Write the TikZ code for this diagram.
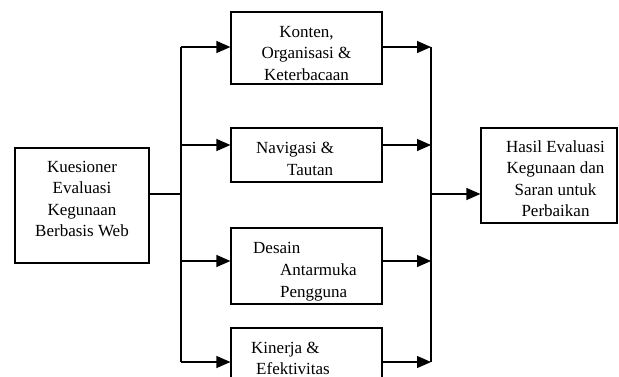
\documentclass[tikz,border=0pt]{standalone}
\usepackage{fontspec}
\setmainfont{Liberation Serif}
\usetikzlibrary{arrows.meta}
\begin{document}
\begin{tikzpicture}[x=1pt,y=-1pt,
  box/.style={draw,line width=1.2pt,rectangle,inner sep=0pt},
  lbl/.style={anchor=base,inner sep=0pt,font=\fontsize{17}{21.5}\selectfont},
  lblw/.style={anchor=base west,inner sep=0pt,font=\fontsize{17}{21.5}\selectfont},
  conn/.style={line width=1.2pt},
  arr/.style={line width=1.2pt,-{Triangle[length=14pt,width=12pt]}}]
\useasboundingbox (0,0) rectangle (619,376);
\clip (0,0) rectangle (619,376);
% boxes
\node[box,minimum width=134pt,minimum height=115pt] (src) at (82,205.5) {};
\node[box,minimum width=151pt,minimum height=72pt] (b1) at (306.5,48) {};
\node[box,minimum width=151pt,minimum height=54pt] (b2) at (306.5,155) {};
\node[box,minimum width=151pt,minimum height=76pt] (b3) at (306.5,266) {};
\node[box,minimum width=151pt,minimum height=72pt] (b4) at (306.5,364) {};
\node[box,minimum width=136pt,minimum height=95pt] (res) at (549,175.5) {};
% texts
\node[lbl] (t1a) at (82,172) {Kuesioner};
\node[lbl] (t1b) at (82,193.5) {Evaluasi};
\node[lbl] (t1c) at (82,215) {Kegunaan};
\node[lbl] (t1d) at (82,236.5) {Berbasis Web};
\node[lbl] (k1) at (306.5,37) {Konten,};
\node[lbl] (k2) at (306.5,58.5) {Organisasi \&};
\node[lbl] (k3) at (306.5,80) {Keterbacaan};
\node[lblw] (n1) at (256,153) {Navigasi \&};
\node[lblw] (n2) at (287,175) {Tautan};
\node[lblw] (d1) at (253,253) {Desain};
\node[lblw] (d2) at (280,275) {Antarmuka};
\node[lblw] (d3) at (280,297) {Pengguna};
\node[lblw] (e1) at (251,353) {Kinerja \&};
\node[lblw] (e2) at (256,374) {Efektivitas};
\node[lbl] (h1) at (555.5,152) {Hasil Evaluasi};
\node[lbl] (h2) at (555.5,173.5) {Kegunaan dan};
\node[lbl] (h3) at (555.5,195) {Saran untuk};
\node[lbl] (h4) at (555.5,216.5) {Perbaikan};
% junction coordinates
\coordinate (jl) at (181,194);
\coordinate (jr) at (431,194);
\coordinate (a1) at (181,47);
\coordinate (a2) at (181,145);
\coordinate (a3) at (181,261);
\coordinate (a4) at (181,362);
\coordinate (r1) at (431,47);
\coordinate (r4) at (431,362);
% connectors
\draw[conn] (src.east |- jl) -- (jl);
\draw[conn] (a1) -- (a4);
\draw[arr] (a1) -- (a1 -| b1.west);
\draw[arr] (a2) -- (a2 -| b2.west);
\draw[arr] (a3) -- (a3 -| b3.west);
\draw[arr] (a4) -- (a4 -| b4.west);
\draw[arr] (a1 -| b1.east) -- (a1 -| jr);
\draw[arr] (a2 -| b2.east) -- (a2 -| jr);
\draw[arr] (a3 -| b3.east) -- (a3 -| jr);
\draw[arr] (a4 -| b4.east) -- (a4 -| jr);
\draw[conn] (r1) -- (r4);
\draw[arr] (jr) -- (jr -| res.west);
\end{tikzpicture}
\end{document}
